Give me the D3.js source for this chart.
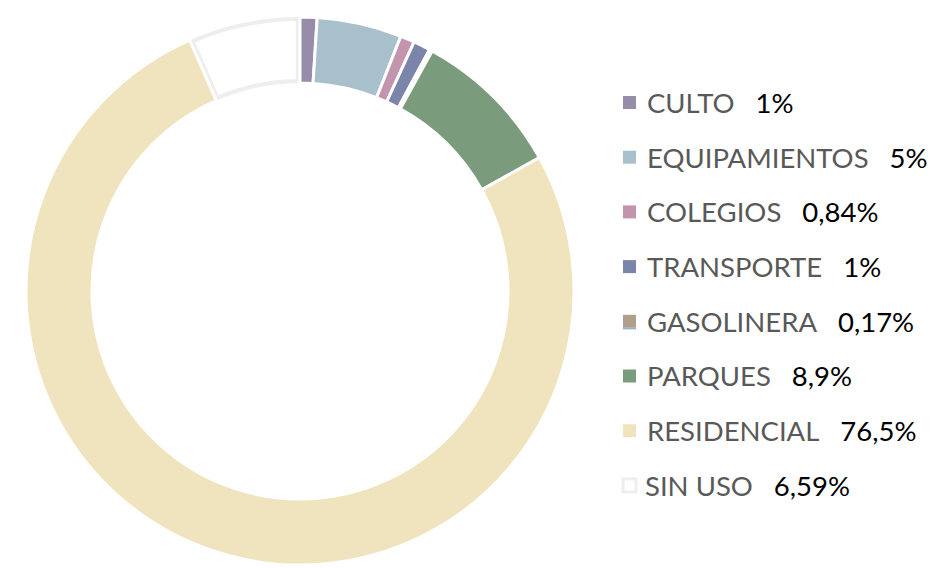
<!DOCTYPE html>
<html>
<head>
<meta charset="utf-8">
<script src="https://cdn.jsdelivr.net/npm/d3@7"></script>
<style>
  html, body { margin: 0; padding: 0; background: #fff; }
  svg { display: block; }
</style>
</head>
<body>
<svg id="chart" width="937" height="568"></svg>
<script>
// Land use shares (%)
const categories = ["CULTO", "EQUIPAMIENTOS", "COLEGIOS", "TRANSPORTE", "GASOLINERA", "PARQUES", "RESIDENCIAL", "SIN USO"];
const values = [1, 5, 0.84, 1, 0.17, 8.9, 76.5, 6.59];
const valueLabels = ["1%", "5%", "0,84%", "1%", "0,17%", "8,9%", "76,5%", "6,59%"];
const colors = ["#978daa", "#a8bfcc", "#c394ae", "#7b85a9", "#b19f8b", "#7a9c7c", "#f0e4bf", "#ffffff"];

const data = categories.map((c, i) => ({ name: c, value: values[i], label: valueLabels[i], color: colors[i] }));

const svg = d3.select("#chart");
const cx = 300, cy = 291, outerR = 274, innerR = 208;

const pie = d3.pie().value(d => d.value).sort(null).startAngle(0).endAngle(2 * Math.PI);
const arc = d3.arc().innerRadius(innerR).outerRadius(outerR);
const arcs = pie(data);

const g = svg.append("g").attr("transform", `translate(${cx},${cy})`);

// Unused land: white fill with a light grey outline, inset slightly
const emptyArc = d3.arc().innerRadius(innerR + 2).outerRadius(outerR - 2).padAngle(0.016).padRadius(outerR);
g.selectAll("path.empty")
  .data(arcs.filter(d => d.data.name === "SIN USO"))
  .join("path")
  .attr("class", "empty")
  .attr("d", emptyArc)
  .attr("fill", "#ffffff")
  .attr("stroke", "#eeeeee")
  .attr("stroke-width", 4);

g.selectAll("path.slice")
  .data(arcs.filter(d => d.data.name !== "SIN USO"))
  .join("path")
  .attr("class", "slice")
  .attr("d", arc)
  .attr("fill", d => d.data.color)
  .attr("stroke", "#ffffff")
  .attr("stroke-width", 3);

// Legend
const legendX = 623, legendY0 = 103, rowH = 54.7;
const font = "Lato, 'Open Sans', sans-serif";
const fontSize = 27.5;

const rows = svg.append("g").selectAll("g.row")
  .data(data)
  .join("g")
  .attr("class", "row")
  .attr("transform", (d, i) => `translate(${legendX},${legendY0 + i * rowH})`);

rows.append("rect")
  .attr("x", 0)
  .attr("y", -7)
  .attr("width", 13)
  .attr("height", 13)
  .attr("fill", d => d.color)
  .attr("stroke", d => d.name === "SIN USO" ? "#eeeeee" : "none")
  .attr("stroke-width", d => d.name === "SIN USO" ? 3 : 0);

// thin blue rule under the GASOLINERA marker
rows.filter(d => d.name === "GASOLINERA")
  .append("line")
  .attr("x1", 0).attr("x2", 13)
  .attr("y1", 7).attr("y2", 7)
  .attr("stroke", "#5b9bd5")
  .attr("stroke-width", 1);

rows.append("text")
  .attr("x", d => d.name === "SIN USO" ? 22 : 24)
  .attr("y", 0)
  .attr("dy", "0.36em")
  .attr("font-family", font)
  .attr("font-size", fontSize)
  .attr("fill", "#595959")
  .text(d => d.name);

// value label follows each name
rows.each(function() {
  const row = d3.select(this);
  const t = row.select("text");
  const w = t.node().getComputedTextLength();
  const x0 = +t.attr("x");
  row.append("text")
    .attr("x", x0 + w + 21)
    .attr("y", 0)
    .attr("dy", "0.36em")
    .attr("font-family", font)
    .attr("font-size", fontSize)
    .attr("fill", "#000000")
    .text(d => d.label);
});
</script>
</body>
</html>
